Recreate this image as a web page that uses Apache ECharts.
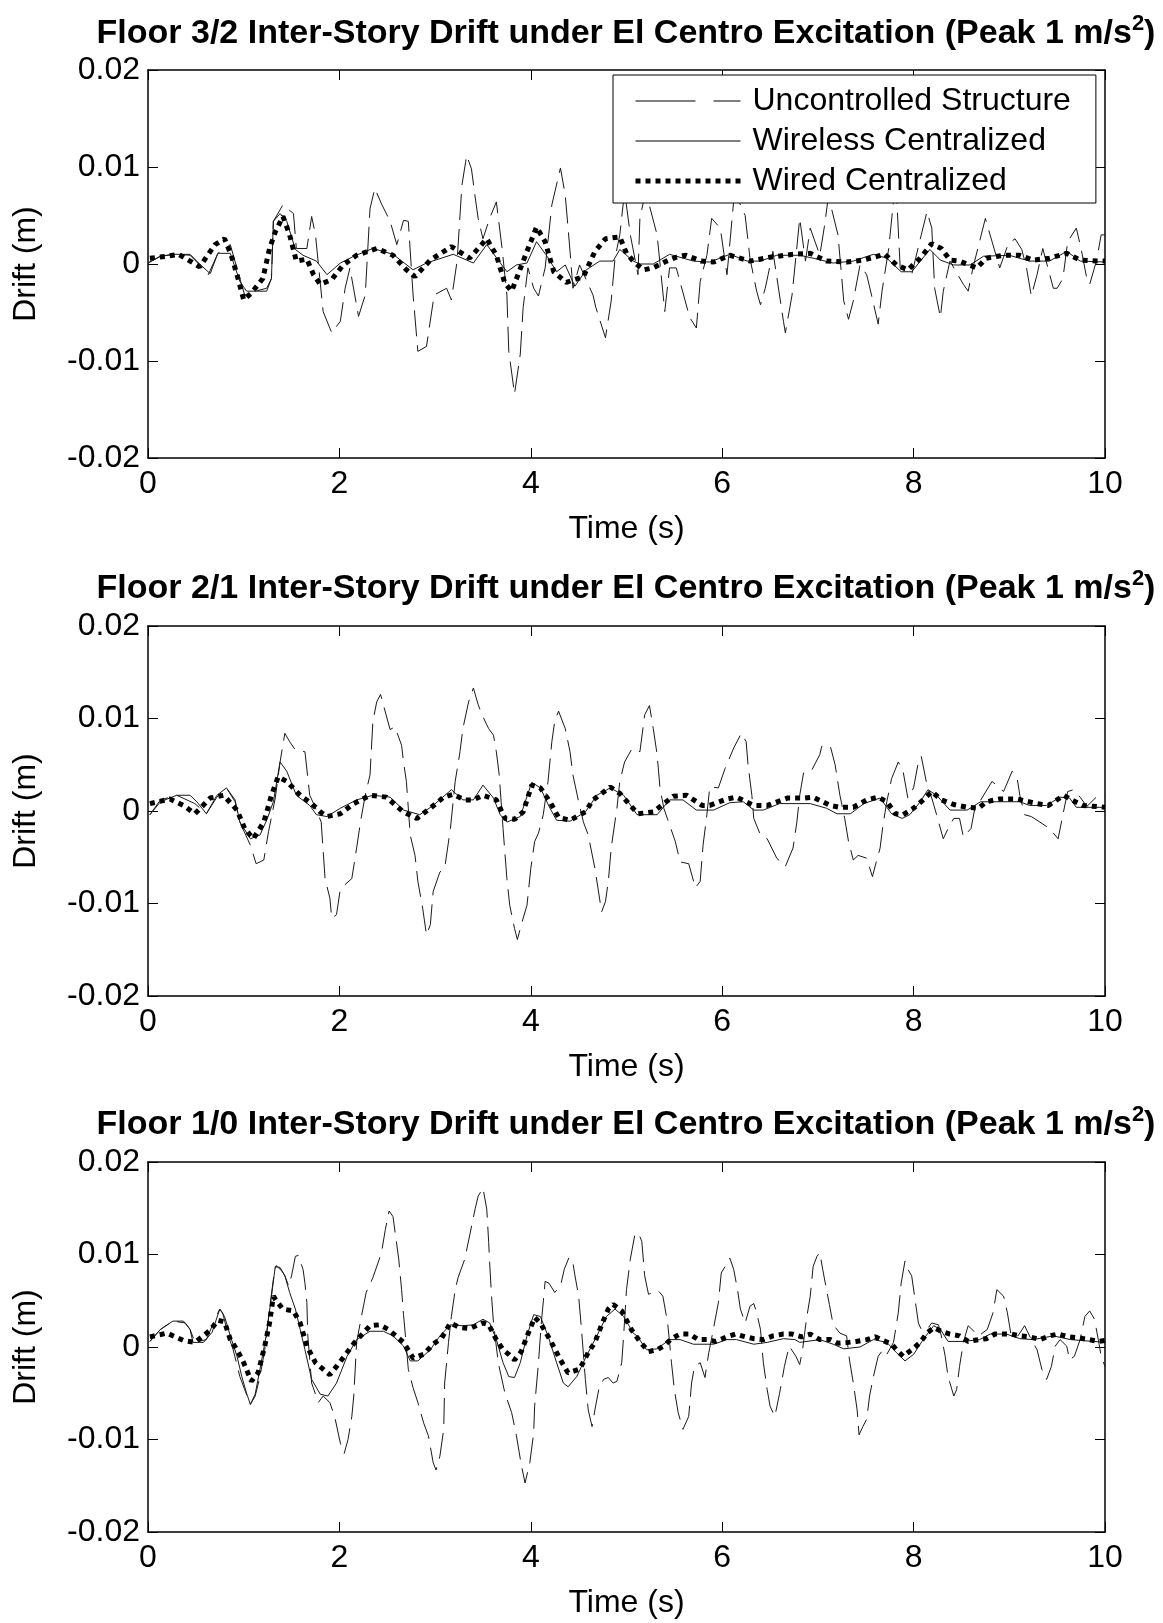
<!DOCTYPE html>
<html>
<head>
<meta charset="utf-8">
<title>Inter-Story Drift under El Centro Excitation</title>
<script src="https://cdn.jsdelivr.net/npm/echarts@6/dist/echarts.min.js"></script>
<style>
    html, body { margin: 0; padding: 0; background: #fff; }
    #chart { width: 1163px; height: 1623px; }
</style>
</head>
<body>
<div id="chart"></div>
<script>
'use strict';

// 标题、刻度
var titles = [
    'Floor 3/2 Inter-Story Drift under El Centro Excitation (Peak 1 m/s{sup|2})',
    'Floor 2/1 Inter-Story Drift under El Centro Excitation (Peak 1 m/s{sup|2})',
    'Floor 1/0 Inter-Story Drift under El Centro Excitation (Peak 1 m/s{sup|2})'
];
var seriesNames = ['Uncontrolled Structure', 'Wireless Centralized', 'Wired Centralized'];
var xTickLabels = ['0', '2', '4', '6', '8', '10'];
var yTickLabels = ['-0.02', '-0.01', '0', '0.01', '0.02'];

// Floor 3/2: [time (s), drift (m)]
var floor32Unc = [
    [0, 0.0001], [0.13, 0.0008], [0.3, 0.001], [0.44, 0.0009], [0.54, -0.0001], [0.63, -0.0011],
    [0.73, 0.0011], [0.86, 0.002], [0.96, -0.0015], [1.01, -0.0032], [1.12, -0.0028], [1.24, -0.0025],
    [1.29, -0.0015], [1.31, 0.0044], [1.41, 0.0061], [1.52, 0.0052], [1.55, 0.0016], [1.66, 0.0016],
    [1.71, 0.0049], [1.75, 0.003], [1.83, -0.0049], [1.92, -0.0071], [2.01, -0.0059], [2.06, -0.0025],
    [2.11, -0.0004], [2.2, -0.0054], [2.27, -0.0032], [2.32, 0.0057], [2.37, 0.0078], [2.44, 0.0062],
    [2.53, 0.0044], [2.6, 0.002], [2.67, 0.0045], [2.72, 0.0044], [2.77, -0.0032], [2.82, -0.009],
    [2.91, -0.0085], [2.99, -0.0032], [3.12, -0.0025], [3.17, -0.0037], [3.23, 0.0003], [3.28, 0.0081],
    [3.33, 0.0112], [3.38, 0.0098], [3.42, 0.0068], [3.45, 0.0047], [3.5, 0.0026], [3.57, 0.0047],
    [3.64, 0.0064], [3.7, 0.0016], [3.75, -0.0032], [3.77, -0.009], [3.83, -0.0134], [3.89, -0.0093],
    [3.92, -0.0045], [3.97, -0.0004], [4.03, -0.0025], [4.08, -0.0033], [4.15, -0.0004], [4.22, 0.0061],
    [4.31, 0.0099], [4.36, 0.0071], [4.41, 0.0013], [4.44, -0.0025], [4.51, -0.0001], [4.65, -0.0032],
    [4.68, -0.0045], [4.78, -0.0076], [4.84, -0.0038], [4.88, 0.0006], [4.93, 0.003], [4.98, 0.0075],
    [5.04, 0.003], [5.12, -0.0011], [5.14, 0.0047], [5.2, 0.0075], [5.32, 0.003], [5.4, -0.0049],
    [5.45, -0.0004], [5.52, -0.0004], [5.66, -0.0055], [5.73, -0.0066], [5.77, -0.0018], [5.84, 0.0009],
    [5.89, 0.0047], [5.98, 0.0037], [6.05, -0.0011], [6.12, 0.0065], [6.15, 0.007], [6.24, 0.005],
    [6.29, 0.0006], [6.36, -0.0028], [6.4, -0.0042], [6.45, -0.0025], [6.48, -0.0011], [6.53, 0.0013],
    [6.64, -0.0059], [6.66, -0.0071], [6.73, -0.0032], [6.81, 0.0047], [6.87, 0.0003], [6.92, 0.0037],
    [7.02, 0.0009], [7.07, 0.004], [7.11, 0.007], [7.21, 0.003], [7.27, -0.0038], [7.32, -0.0057],
    [7.37, -0.0038], [7.44, -0.0001], [7.51, -0.0011], [7.56, -0.0032], [7.63, -0.0062], [7.67, -0.0028],
    [7.74, 0.0016], [7.79, 0.0065], [7.82, 0.0075], [7.86, -0.0004], [7.98, -0.0011], [8.08, 0.003],
    [8.14, 0.0054], [8.19, 0.0037], [8.22, -0.0025], [8.28, -0.0055], [8.31, -0.0028], [8.38, 0.0003],
    [8.52, -0.0021], [8.57, -0.0028], [8.62, -0.0004], [8.75, 0.0047], [8.82, 0.0023], [8.9, -0.0004],
    [8.99, 0.0021], [9.06, 0.0026], [9.13, 0.0015], [9.18, -0.0004], [9.23, -0.0033], [9.29, -0.0011],
    [9.35, 0.0016], [9.46, -0.0025], [9.5, -0.0025], [9.56, -0.0015], [9.61, 0.0023], [9.7, 0.0037],
    [9.75, 0.0016], [9.81, -0.0015], [9.84, -0.0021], [9.91, 0.0003], [9.96, 0.003], [10, 0.003]
];
var floor32Wireless = [
    [0, 0.0001], [0.13, 0.0008], [0.26, 0.001], [0.44, 0.001], [0.54, 0], [0.65, -0.001],
    [0.73, 0.0011], [0.86, 0.0011], [0.96, -0.0018], [1.03, -0.0028], [1.24, -0.0028], [1.29, -0.0015],
    [1.31, 0.0044], [1.38, 0.0052], [1.45, 0.0044], [1.54, 0.0015], [1.62, 0.0009], [1.76, 0.0003],
    [1.87, -0.0011], [2.01, 0.0001], [2.15, 0.0008], [2.35, 0.0016], [2.56, 0.001], [2.77, -0.0006],
    [2.91, 0.0001], [3.19, 0.001], [3.4, 0.0001], [3.54, 0.002], [3.66, 0.0004], [3.75, -0.0008],
    [3.85, -0.0001], [3.96, 0.0001], [4.06, 0.0023], [4.17, 0.0008], [4.27, -0.0008], [4.36, -0.0001],
    [4.46, -0.0023], [4.58, -0.0006], [4.72, 0.0003], [4.86, 0.0003], [4.93, 0.0015], [5.07, 0.0003],
    [5.14, 0], [5.28, 0], [5.45, 0.001], [5.7, 0.0003], [5.87, 0.0002], [6.08, 0.001],
    [6.26, 0.0003], [6.4, 0.0003], [6.57, 0.0009], [6.81, 0.0009], [6.95, 0.0006], [7.16, 0.0001],
    [7.37, 0.0003], [7.58, 0.001], [7.72, 0.0006], [7.87, -0.0008], [7.98, -0.0008], [8.17, 0.0015],
    [8.28, 0.0004], [8.42, -0.0001], [8.59, -0.0001], [8.73, 0.0008], [9, 0.0009], [9.21, 0.0003],
    [9.42, 0.0003], [9.6, 0.0013], [9.74, 0.0003], [10, 0.0002]
];
var floor32Wired = [
    [0.02, 0.0006], [0.2, 0.0008], [0.32, 0.001], [0.44, 0.0003], [0.54, -0.0003], [0.7, 0.002],
    [0.8, 0.0026], [0.87, 0.0009], [0.93, -0.0011], [1, -0.0037], [1.08, -0.003], [1.2, -0.0015],
    [1.27, 0.0016], [1.33, 0.0033], [1.41, 0.0049], [1.48, 0.003], [1.55, 0.0003], [1.66, 0.0005],
    [1.73, -0.0011], [1.8, -0.0021], [1.92, -0.0016], [2.04, -0.0001], [2.18, 0.0009], [2.39, 0.0016],
    [2.56, 0.0009], [2.7, -0.0006], [2.79, -0.0013], [2.95, 0.0004], [3.17, 0.0018], [3.36, 0.0006],
    [3.54, 0.0026], [3.64, 0.0009], [3.73, -0.002], [3.8, -0.0028], [3.96, 0.0013], [4.06, 0.0038],
    [4.15, 0.0023], [4.24, -0.0008], [4.37, -0.0019], [4.55, -0.0013], [4.67, 0.0013], [4.78, 0.0026],
    [4.93, 0.0028], [5, 0.0011], [5.09, 0.0001], [5.18, -0.0006], [5.28, -0.0004], [5.42, 0.0003],
    [5.52, 0.0007], [5.62, 0.0009], [5.78, 0.0003], [5.91, 0.0002], [6.08, 0.0009], [6.29, 0.0003],
    [6.5, 0.0007], [6.74, 0.001], [6.92, 0.0011], [7.09, 0.0003], [7.3, 0.0002], [7.47, 0.0004],
    [7.7, 0.001], [7.82, -0.0001], [7.94, -0.0006], [8.07, 0.0006], [8.19, 0.0021], [8.29, 0.0016],
    [8.38, 0.0004], [8.48, 0.0003], [8.66, -0.0004], [8.76, 0.0006], [8.94, 0.0009], [9.11, 0.0009],
    [9.25, 0.0004], [9.42, 0.0006], [9.6, 0.0011], [9.74, 0.0004], [9.92, 0.0003], [10, 0.0003]
];

// Floor 2/1
var floor21Unc = [
    [0.02, -0.0004], [0.13, 0.0012], [0.3, 0.0017], [0.49, 0.0008], [0.61, -0.0003], [0.72, 0.0015],
    [0.82, 0.0025], [0.91, 0.001], [0.96, -0.0012], [1.07, -0.0037], [1.13, -0.0057], [1.21, -0.0053],
    [1.26, -0.0022], [1.33, 0.0014], [1.38, 0.0053], [1.43, 0.0084], [1.48, 0.0075], [1.54, 0.0066],
    [1.64, 0.0064], [1.69, 0.0017], [1.73, 0.0008], [1.81, -0.0012], [1.85, -0.0073], [1.9, -0.0094],
    [1.92, -0.0116], [1.97, -0.0112], [2.01, -0.0084], [2.13, -0.0073], [2.18, -0.004], [2.22, -0.0012],
    [2.27, 0.0017], [2.32, 0.0039], [2.35, 0.0097], [2.39, 0.0118], [2.43, 0.0126], [2.48, 0.0107],
    [2.53, 0.0088], [2.58, 0.0091], [2.65, 0.0071], [2.67, 0.0053], [2.7, 0.0032], [2.74, -0.0026],
    [2.79, -0.0048], [2.82, -0.0076], [2.87, -0.0105], [2.91, -0.0134], [2.95, -0.0123], [2.98, -0.0087],
    [3.05, -0.0066], [3.1, -0.0062], [3.16, -0.0019], [3.21, 0.0032], [3.26, 0.0064], [3.29, 0.0089],
    [3.35, 0.0118], [3.4, 0.0133], [3.45, 0.0115], [3.49, 0.0104], [3.56, 0.0089], [3.61, 0.0082],
    [3.64, 0.0064], [3.67, 0.0039], [3.71, -0.0019], [3.75, -0.0073], [3.78, -0.0102], [3.83, -0.0127],
    [3.86, -0.0139], [3.9, -0.0123], [3.96, -0.0102], [4, -0.0062], [4.04, -0.0033], [4.08, -0.0024],
    [4.13, -0.0004], [4.18, 0.0032], [4.22, 0.0075], [4.25, 0.0097], [4.29, 0.0108], [4.36, 0.0089],
    [4.41, 0.0064], [4.44, 0.0039], [4.5, 0.001], [4.55, -0.0012], [4.6, -0.0026], [4.67, -0.0062],
    [4.74, -0.0109], [4.78, -0.0098], [4.81, -0.0076], [4.84, -0.004], [4.9, 0.0003], [4.93, 0.0032],
    [4.98, 0.0053], [5.05, 0.0066], [5.09, 0.0068], [5.14, 0.0064], [5.19, 0.0104], [5.24, 0.0114],
    [5.28, 0.0089], [5.32, 0.0061], [5.35, 0.0025], [5.39, 0.0003], [5.45, -0.0015], [5.51, -0.0033],
    [5.56, -0.0055], [5.65, -0.0057], [5.72, -0.0083], [5.77, -0.0076], [5.8, -0.0037], [5.84, -0.0004],
    [5.87, 0.0026], [5.96, 0.0025], [6.03, 0.0046], [6.12, 0.0068], [6.2, 0.0084], [6.25, 0.0075],
    [6.27, 0.005], [6.31, 0.0017], [6.33, -0.0008], [6.4, -0.0026], [6.47, -0.003], [6.57, -0.0051],
    [6.66, -0.006], [6.74, -0.004], [6.78, -0.0012], [6.81, 0.0017], [6.85, 0.0041], [6.93, 0.0043],
    [7.02, 0.0061], [7.04, 0.007], [7.13, 0.007], [7.18, 0.005], [7.23, 0.0017], [7.28, -0.0008],
    [7.32, -0.0033], [7.37, -0.0053], [7.42, -0.0048], [7.51, -0.0051], [7.57, -0.0071], [7.61, -0.0055],
    [7.65, -0.004], [7.68, -0.0015], [7.72, 0.001], [7.77, 0.0035], [7.84, 0.0053], [7.89, 0.0043],
    [7.94, 0.0014], [8, 0.0025], [8.05, 0.0053], [8.08, 0.0059], [8.14, 0.0028], [8.19, 0.0014],
    [8.24, -0.0004], [8.31, -0.003], [8.36, -0.0019], [8.42, -0.0008], [8.48, -0.0008], [8.52, -0.0028],
    [8.6, -0.0019], [8.64, 0.0003], [8.69, 0.001], [8.82, 0.0032], [8.94, 0.0021], [9.03, 0.0043],
    [9.08, 0.0037], [9.11, 0.0017], [9.16, -0.0004], [9.23, -0.0006], [9.32, -0.0012], [9.42, -0.0019],
    [9.51, -0.003], [9.56, -0.0004], [9.61, 0.0021], [9.67, 0.0023], [9.74, 0.0015], [9.81, 0.0005],
    [9.91, 0.0015], [10, 0.0017]
];
var floor21Wireless = [
    [0.02, -0.0004], [0.13, 0.001], [0.3, 0.0017], [0.44, 0.0017], [0.51, 0.001], [0.61, -0.0003],
    [0.72, 0.0017], [0.82, 0.0025], [0.91, 0.0012], [0.96, -0.0012], [1.07, -0.003], [1.17, -0.0026],
    [1.24, -0.001], [1.31, 0.001], [1.38, 0.0053], [1.45, 0.0043], [1.55, 0.0017], [1.69, 0.0006],
    [1.76, -0.0004], [1.87, -0.0006], [2.01, 0.0003], [2.18, 0.0012], [2.35, 0.0017], [2.53, 0.0015],
    [2.67, 0.0001], [2.84, -0.0004], [2.98, 0.0006], [3.17, 0.0023], [3.29, 0.0012], [3.4, 0.0012],
    [3.5, 0.0028], [3.61, 0.0014], [3.68, -0.0004], [3.75, -0.0012], [3.89, -0.0006], [4.01, 0.0031],
    [4.1, 0.0025], [4.2, 0.0003], [4.27, -0.001], [4.41, -0.0011], [4.57, -0.0001], [4.69, 0.0017],
    [4.83, 0.0025], [4.97, 0.0017], [5.11, -0.0004], [5.32, -0.0004], [5.45, 0.0012], [5.59, 0.0012],
    [5.73, 0.0001], [5.91, 0.0001], [6.08, 0.0009], [6.22, 0.001], [6.33, 0.0001], [6.43, 0.0001],
    [6.6, 0.0008], [6.92, 0.0008], [7.09, 0.0003], [7.2, -0.0003], [7.34, -0.0003], [7.48, 0.0008],
    [7.65, 0.0014], [7.77, -0.0003], [7.88, -0.0008], [7.96, -0.0004], [8.07, 0.001], [8.15, 0.0023],
    [8.24, 0.0017], [8.38, 0.0001], [8.56, 0.0001], [8.7, 0.001], [9.11, 0.001], [9.21, 0.0006],
    [9.39, 0.0006], [9.53, 0.0015], [9.63, 0.0014], [9.7, 0.0004], [10, 0.0004]
];
var floor21Wired = [
    [0.02, 0.0008], [0.23, 0.0013], [0.37, 0.0006], [0.49, -0.0003], [0.65, 0.0014], [0.79, 0.0017],
    [0.93, 0.0001], [1.01, -0.0019], [1.1, -0.003], [1.21, -0.0012], [1.29, 0.0017], [1.36, 0.0037],
    [1.45, 0.0032], [1.59, 0.0017], [1.71, 0.0008], [1.8, -0.0001], [1.87, -0.0006], [2.01, -0.0003],
    [2.15, 0.0008], [2.32, 0.0017], [2.49, 0.0015], [2.67, -0.0001], [2.81, -0.0008], [2.95, 0.0003],
    [3.09, 0.0015], [3.19, 0.0018], [3.31, 0.0012], [3.4, 0.0012], [3.5, 0.0017], [3.64, 0.0012],
    [3.73, -0.0008], [3.83, -0.0009], [3.92, -0.0001], [4.01, 0.0028], [4.1, 0.0025], [4.2, 0.001],
    [4.29, -0.0007], [4.41, -0.001], [4.57, -0.0001], [4.65, 0.0012], [4.83, 0.0026], [4.93, 0.0019],
    [5.04, 0.0006], [5.12, -0.0003], [5.28, -0.0001], [5.39, 0.0008], [5.49, 0.0016], [5.63, 0.0017],
    [5.79, 0.0006], [5.87, 0.0006], [6.05, 0.0013], [6.15, 0.0015], [6.33, 0.0006], [6.47, 0.0006],
    [6.68, 0.0014], [6.85, 0.0014], [6.95, 0.0015], [7.13, 0.0006], [7.23, 0.0004], [7.37, 0.0004],
    [7.51, 0.0012], [7.63, 0.0015], [7.72, 0.001], [7.81, -0.0003], [7.89, -0.0004], [8, 0.0003],
    [8.1, 0.0012], [8.19, 0.0021], [8.29, 0.0012], [8.42, 0.0007], [8.56, 0.0004], [8.68, 0.0003],
    [8.76, 0.001], [8.9, 0.0013], [9.08, 0.0013], [9.29, 0.0008], [9.41, 0.0006], [9.57, 0.0017],
    [9.65, 0.0012], [9.77, 0.0006], [10, 0.0004]
];

// Floor 1/0
var floor10Unc = [
    [0.02, 0.0006], [0.13, 0.0019], [0.26, 0.0028], [0.39, 0.0026], [0.44, 0.0019], [0.49, 0.0005],
    [0.61, 0.0008], [0.7, 0.003], [0.75, 0.0041], [0.78, 0.0037], [0.84, 0.0012], [0.89, -0.0003],
    [0.96, -0.0032], [1.01, -0.0046], [1.07, -0.0062], [1.12, -0.0053], [1.17, -0.0032], [1.22, -0.0003],
    [1.27, 0.0041], [1.31, 0.0073], [1.34, 0.0088], [1.4, 0.0082], [1.43, 0.0077], [1.47, 0.0066],
    [1.5, 0.0077], [1.54, 0.0098], [1.57, 0.0099], [1.62, 0.0084], [1.64, 0.0069], [1.66, 0.0048],
    [1.67, 0.0012], [1.71, -0.0039], [1.78, -0.006], [1.83, -0.0053], [1.9, -0.006], [1.95, -0.0075],
    [2.01, -0.0104], [2.05, -0.0115], [2.09, -0.01], [2.13, -0.0075], [2.15, -0.0053], [2.18, 0.0005],
    [2.23, 0.0033], [2.28, 0.0059], [2.35, 0.0075], [2.44, 0.0102], [2.48, 0.0127], [2.52, 0.0147],
    [2.56, 0.0141], [2.59, 0.0118], [2.62, 0.0095], [2.65, 0.0062], [2.67, 0.0035], [2.69, 0.0012],
    [2.72, -0.0024], [2.77, -0.0044], [2.82, -0.006], [2.88, -0.0082], [2.93, -0.0096], [2.98, -0.0125],
    [3.01, -0.0133], [3.05, -0.0118], [3.09, -0.0089], [3.1, -0.0039], [3.14, 0.0005], [3.17, 0.0033],
    [3.21, 0.0062], [3.24, 0.0075], [3.31, 0.0095], [3.36, 0.012], [3.42, 0.015], [3.45, 0.0163],
    [3.5, 0.0172], [3.54, 0.0149], [3.56, 0.0113], [3.57, 0.0091], [3.59, 0.0055], [3.61, 0.0026],
    [3.66, -0.0017], [3.73, -0.005], [3.8, -0.0071], [3.85, -0.0096], [3.9, -0.0127], [3.94, -0.0147],
    [3.99, -0.0125], [4.03, -0.0093], [4.04, -0.0064], [4.08, -0.0017], [4.11, 0.0026], [4.15, 0.0071],
    [4.19, 0.0069], [4.25, 0.0059], [4.31, 0.0066], [4.35, 0.0084], [4.4, 0.0097], [4.44, 0.0091],
    [4.46, 0.0078], [4.5, 0.0055], [4.53, 0.0019], [4.57, -0.0035], [4.6, -0.0068], [4.64, -0.0086],
    [4.67, -0.0068], [4.71, -0.0046], [4.76, -0.0035], [4.81, -0.0033], [4.86, -0.0039], [4.9, -0.0037],
    [4.95, -0.0017], [4.97, 0.0012], [5, 0.0062], [5.04, 0.0095], [5.09, 0.0123], [5.13, 0.0122],
    [5.16, 0.0114], [5.19, 0.0077], [5.23, 0.0057], [5.33, 0.0061], [5.38, 0.0055], [5.43, 0.0026],
    [5.45, 0.0005], [5.47, -0.0017], [5.5, -0.0046], [5.54, -0.0071], [5.59, -0.0089], [5.65, -0.0075],
    [5.68, -0.0039], [5.71, -0.0021], [5.77, -0.0017], [5.82, -0.0033], [5.86, -0.0006], [5.9, 0.0015],
    [5.96, 0.0048], [5.99, 0.008], [6.08, 0.0096], [6.12, 0.0084], [6.16, 0.0062], [6.19, 0.0041],
    [6.24, 0.0026], [6.29, 0.0044], [6.33, 0.0047], [6.36, 0.0037], [6.4, 0.0019], [6.43, -0.0017],
    [6.47, -0.0046], [6.5, -0.0064], [6.55, -0.0075], [6.6, -0.005], [6.65, -0.0021], [6.7, 0.0001],
    [6.77, -0.001], [6.81, -0.0019], [6.84, -0.0003], [6.88, 0.003], [6.92, 0.0055], [6.95, 0.0087],
    [6.99, 0.0098], [7.02, 0.0102], [7.05, 0.0084], [7.09, 0.0062], [7.12, 0.0046], [7.16, 0.0024],
    [7.23, 0.0015], [7.3, 0.0012], [7.33, -0.0014], [7.37, -0.0039], [7.41, -0.0068], [7.43, -0.0095],
    [7.47, -0.0086], [7.51, -0.0078], [7.54, -0.0053], [7.58, -0.0032], [7.63, -0.001], [7.68, -0.0003],
    [7.72, -0.0008], [7.79, 0.0005], [7.84, 0.0037], [7.87, 0.0069], [7.91, 0.0093], [7.94, 0.0084],
    [7.98, 0.0077], [8.01, 0.0055], [8.05, 0.0026], [8.08, 0.0019], [8.14, 0.0019], [8.19, 0.0026],
    [8.26, 0.0024], [8.29, 0.0012], [8.33, -0.001], [8.36, -0.0032], [8.42, -0.0053], [8.45, -0.0046],
    [8.48, -0.0021], [8.52, 0.0005], [8.57, 0.0023], [8.63, 0.0017], [8.68, 0.0012], [8.77, 0.0019],
    [8.83, 0.0037], [8.87, 0.0062], [8.89, 0.0064], [8.94, 0.0055], [8.98, 0.0037], [9.02, 0.0012],
    [9.09, 0.0012], [9.16, 0.0023], [9.23, 0.0008], [9.29, -0.0003], [9.34, -0.0024], [9.39, -0.0035],
    [9.44, -0.0021], [9.48, 0.0001], [9.53, 0.0008], [9.6, 0.0001], [9.63, -0.0014], [9.68, -0.001],
    [9.74, 0.0008], [9.79, 0.0033], [9.84, 0.0039], [9.89, 0.003], [9.93, 0.0008], [9.96, -0.001],
    [10, -0.0021]
];
var floor10Wireless = [
    [0.02, 0.0006], [0.13, 0.0019], [0.26, 0.0028], [0.37, 0.0028], [0.44, 0.0019], [0.47, 0.0005],
    [0.58, 0.0005], [0.67, 0.0016], [0.75, 0.0041], [0.8, 0.0033], [0.86, 0.0012], [0.93, -0.001],
    [0.98, -0.0032], [1.03, -0.005], [1.07, -0.0062], [1.12, -0.0051], [1.17, -0.0024], [1.24, 0.0015],
    [1.29, 0.0055], [1.33, 0.0087], [1.38, 0.0086], [1.43, 0.0077], [1.48, 0.0059], [1.54, 0.0041],
    [1.59, 0.0019], [1.64, -0.0003], [1.71, -0.0035], [1.8, -0.0051], [1.88, -0.0053], [1.97, -0.0039],
    [2.08, -0.001], [2.18, 0.0008], [2.32, 0.0017], [2.46, 0.0017], [2.56, 0.0012], [2.67, 0.0001],
    [2.74, -0.0015], [2.82, -0.0015], [2.95, -0.0003], [3.05, 0.0012], [3.16, 0.0024], [3.29, 0.0023],
    [3.4, 0.0024], [3.5, 0.003], [3.57, 0.0026], [3.64, 0.0008], [3.71, -0.0017], [3.77, -0.0032],
    [3.83, -0.0033], [3.89, -0.0017], [3.96, 0.0012], [4.03, 0.0035], [4.1, 0.0033], [4.18, 0.0012],
    [4.27, -0.0017], [4.34, -0.0039], [4.39, -0.0043], [4.48, -0.0032], [4.58, -0.001], [4.69, 0.0012],
    [4.79, 0.0033], [4.88, 0.0041], [4.97, 0.0033], [5.07, 0.0015], [5.11, 0.0012], [5.21, -0.0003],
    [5.32, -0.0002], [5.45, 0.0008], [5.56, 0.0008], [5.7, 0.0003], [5.91, 0.0003], [6.05, 0.0008],
    [6.15, 0.0008], [6.33, 0.0003], [6.47, 0.0005], [6.64, 0.0009], [6.76, 0.0008], [6.81, 0.0005],
    [7.02, 0.0008], [7.16, 0.0003], [7.27, -0.0002], [7.44, 0], [7.58, 0.0008], [7.72, 0.0005],
    [7.82, -0.0006], [7.91, -0.0015], [8, -0.0008], [8.1, 0.0008], [8.21, 0.0023], [8.28, 0.0019],
    [8.36, 0.0006], [8.52, 0.0006], [8.69, 0.0008], [8.8, 0.0014], [8.97, 0.0014], [9.11, 0.0009],
    [9.25, 0.0008], [9.46, 0.0012], [9.64, 0.0008], [9.88, 0.0006], [10, 0.0005]
];
var floor10Wired = [
    [0.02, 0.0011], [0.2, 0.0015], [0.37, 0.0007], [0.49, 0.0005], [0.65, 0.0018], [0.73, 0.0029],
    [0.8, 0.0027], [0.86, 0.0008], [0.93, -0.0003], [1, -0.0017], [1.08, -0.0037], [1.15, -0.0028],
    [1.22, 0.0001], [1.27, 0.0026], [1.31, 0.0055], [1.34, 0.005], [1.41, 0.0041], [1.52, 0.0039],
    [1.59, 0.0026], [1.66, 0.0001], [1.75, -0.0017], [1.83, -0.0024], [1.9, -0.003], [1.97, -0.0021],
    [2.08, -0.0006], [2.16, 0.0005], [2.32, 0.0023], [2.42, 0.0024], [2.51, 0.0019], [2.67, 0.0005],
    [2.77, -0.0012], [2.88, -0.0008], [2.98, 0.0003], [3.07, 0.001], [3.16, 0.0026], [3.26, 0.0021],
    [3.36, 0.002], [3.5, 0.0026], [3.56, 0.0024], [3.64, 0.0008], [3.71, -0.0003], [3.77, -0.0008],
    [3.83, -0.0014], [3.9, -0.0005], [3.97, 0.0014], [4.04, 0.0032], [4.1, 0.0026], [4.2, 0.0008],
    [4.31, -0.0014], [4.39, -0.0028], [4.51, -0.0024], [4.6, -0.0006], [4.67, 0.0005], [4.74, 0.0024],
    [4.81, 0.0041], [4.86, 0.0046], [4.95, 0.0039], [5.05, 0.0019], [5.14, 0.0006], [5.23, -0.0005],
    [5.32, -0.0003], [5.4, 0.0002], [5.47, 0.0009], [5.56, 0.0014], [5.66, 0.0014], [5.75, 0.0008],
    [5.84, 0.0008], [5.93, 0.0006], [6.05, 0.0011], [6.14, 0.0014], [6.24, 0.0011], [6.33, 0.0009],
    [6.43, 0.0008], [6.53, 0.0012], [6.64, 0.0014], [6.73, 0.0014], [6.83, 0.0011], [6.92, 0.0014],
    [7.02, 0.0008], [7.13, 0.0008], [7.21, 0.0004], [7.32, 0.0005], [7.4, 0.0006], [7.51, 0.0008],
    [7.6, 0.0011], [7.68, 0.0007], [7.77, 0.0003], [7.84, -0.0005], [7.89, -0.001], [7.98, -0.0003],
    [8.07, 0.0005], [8.14, 0.0015], [8.21, 0.0021], [8.29, 0.0017], [8.38, 0.0014], [8.48, 0.0012],
    [8.57, 0.0006], [8.68, 0.0008], [8.76, 0.0009], [8.85, 0.0014], [8.95, 0.0014], [9.02, 0.0014],
    [9.11, 0.0012], [9.21, 0.0011], [9.32, 0.0008], [9.42, 0.0012], [9.51, 0.0014], [9.62, 0.0011],
    [9.72, 0.001], [9.83, 0.0008], [9.93, 0.0006], [10, 0.0007]
];

var FONT = '"Liberation Sans", Arial, Helvetica, sans-serif',
    plots = [
        { title: titles[0], series: [floor32Unc, floor32Wireless, floor32Wired] },
        { title: titles[1], series: [floor21Unc, floor21Wireless, floor21Wired] },
        { title: titles[2], series: [floor10Unc, floor10Wireless, floor10Wired] }
    ],
    gridTops = [70, 626, 1162],
    gridHeights = [388, 370, 370],
    titleTops = [13, 568, 1104],
    lineStyles = [
        { color: '#1a1a1a', width: 1, type: [26, 9] },   // uncontrolled, dashed
        { color: '#1a1a1a', width: 1, type: 'solid' },   // wireless
        { color: '#000', width: 5, type: [5, 5] }        // wired, dotted
    ],
    chart = echarts.init(document.getElementById('chart')),
    option = {
        animation: false,
        backgroundColor: '#fff',
        title: [],
        grid: [],
        xAxis: [],
        yAxis: [],
        series: [],
        legend: {
            orient: 'vertical',
            left: 613,
            top: 75,
            padding: [7, 25, 3, 20],
            itemWidth: 105,
            itemHeight: 16,
            itemGap: 2,
            borderColor: '#000',
            borderWidth: 1,
            borderRadius: 0,
            backgroundColor: '#fff',
            itemStyle: { opacity: 0 },
            textStyle: { fontFamily: FONT, fontSize: 32, color: '#000', lineHeight: 38, padding: [0, 0, 0, 7] },
            data: [
                { name: seriesNames[0], lineStyle: { type: [60, 18], width: 1.2, color: '#000' } },
                { name: seriesNames[1], lineStyle: { width: 1.2, color: '#000' } },
                { name: seriesNames[2], lineStyle: { type: [5, 5], width: 5, color: '#000' } }
            ]
        }
    };

// 坐标轴公用样式
var axisLineStyle = { show: true, onZero: false, lineStyle: { color: '#000', width: 1.5 } },
    tickStyle = { show: true, inside: true, length: 10, lineStyle: { color: '#000', width: 1 } };

plots.forEach(function(plot, i) {
    option.title.push({
        text: plot.title,
        left: 626,
        top: titleTops[i],
        textAlign: 'center',
        padding: 0,
        textStyle: {
            fontFamily: FONT,
            fontSize: 34,
            fontWeight: 'bold',
            color: '#000',
            lineHeight: 42,
            rich: {
                sup: { fontFamily: FONT, fontSize: 22, fontWeight: 'bold', color: '#000', verticalAlign: 'top', lineHeight: 22 }
            }
        }
    });

    option.grid.push({ left: 148, width: 957, top: gridTops[i], height: gridHeights[i], outerBoundsMode: 'none' });

    // 下、上 x 轴
    option.xAxis.push({
        type: 'value', gridIndex: i, position: 'bottom',
        min: 0, max: 10, interval: 2,
        axisLine: axisLineStyle, axisTick: tickStyle, splitLine: { show: false },
        axisLabel: {
            margin: 10, color: '#000', fontFamily: FONT, fontSize: 32,
            formatter: function(v) { return xTickLabels[Math.round(v / 2)]; }
        },
        name: 'Time (s)', nameLocation: 'middle', nameGap: 55, nameMoveOverlap: false,
        nameTextStyle: { fontFamily: FONT, fontSize: 32, color: '#000' }
    });
    option.xAxis.push({
        type: 'value', gridIndex: i, position: 'top',
        min: 0, max: 10, interval: 2,
        axisLine: axisLineStyle, axisTick: tickStyle, splitLine: { show: false },
        axisLabel: { show: false }
    });

    // 左、右 y 轴
    option.yAxis.push({
        type: 'value', gridIndex: i, position: 'left',
        min: -0.02, max: 0.02, interval: 0.01,
        axisLine: axisLineStyle, axisTick: tickStyle, splitLine: { show: false },
        axisLabel: {
            margin: 8, color: '#000', fontFamily: FONT, fontSize: 32,
            formatter: function(v) { return yTickLabels[Math.round(v * 100) + 2]; }
        },
        name: 'Drift (m)', nameLocation: 'middle', nameGap: 106, nameMoveOverlap: false,
        nameTextStyle: { fontFamily: FONT, fontSize: 32, color: '#000' }
    });
    option.yAxis.push({
        type: 'value', gridIndex: i, position: 'right',
        min: -0.02, max: 0.02, interval: 0.01,
        axisLine: axisLineStyle, axisTick: tickStyle, splitLine: { show: false },
        axisLabel: { show: false }
    });

    plot.series.forEach(function(data, k) {
        option.series.push({
            name: seriesNames[k],
            type: 'line',
            xAxisIndex: i * 2,
            yAxisIndex: i * 2,
            data: data,
            symbol: 'none',
            showSymbol: false,
            smooth: false,
            clip: true,
            z: 2 + k,
            lineStyle: lineStyles[k],
            itemStyle: { color: lineStyles[k].color },
            emphasis: { disabled: true }
        });
    });
});

chart.setOption(option);
</script>
</body>
</html>
